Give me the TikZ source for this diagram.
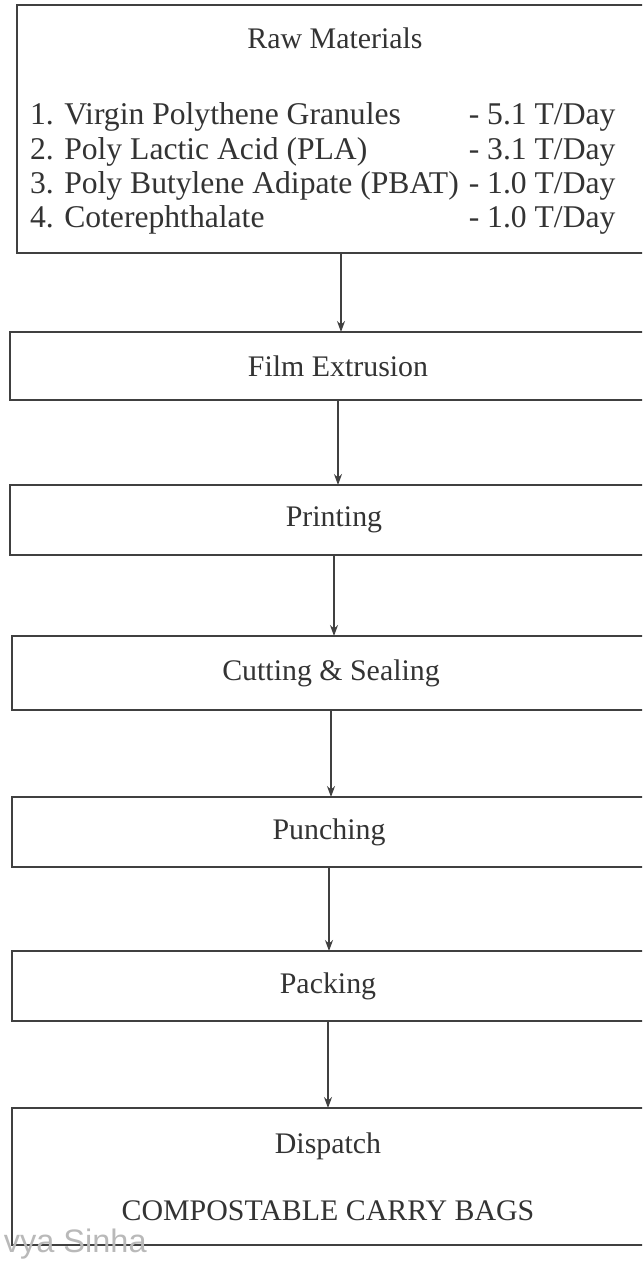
\documentclass[tikz,border=0pt]{standalone}
\usepackage{fontspec}
\setmainfont{Liberation Serif}
\setsansfont{Liberation Sans}
\usetikzlibrary{positioning,arrows.meta}

\begin{document}
\begin{tikzpicture}[every node/.style={outer sep=0pt},
        stage/.style={draw=black!75,line width=0.6pt,inner sep=0pt,text=black!80,
        font=\fontsize{17}{19.5}\selectfont},
        flow/.style={draw=black!75,line width=0.6pt,-{Stealth[length=2.2mm,width=1.6mm]}}]

        \useasboundingbox (0,0) rectangle (12.84,-25.24);
        \clip (0,0) rectangle (12.84,-25.24);

        % Raw materials
        \node[stage,minimum width=12.96cm,minimum height=4.96cm] (b1) at (6.82,-2.58) {};
        \node[stage,draw=none] (raw) at (6.70,-0.76) {Raw Materials};
        \node[stage,draw=none,anchor=west,font=\fontsize{18}{19.5}\selectfont] (items) at (0.6,-3.39) {%
        \begin{tabular}{@{}l@{\hspace{0.2cm}}l@{}}
        1. Virgin Polythene Granules & - 5.1 T/Day\\
        2. Poly Lactic Acid (PLA) & - 3.1 T/Day\\
        3. Poly Butylene Adipate (PBAT) & - 1.0 T/Day\\
        4. Coterephthalate & - 1.0 T/Day
        \end{tabular}};

        % Process stages
        \node[stage,minimum width=13.12cm,minimum height=1.36cm,below=1.58cm of b1,xshift=-0.06cm] (b2) {Film Extrusion};
        \node[stage,minimum width=12.96cm,minimum height=1.40cm,below=1.70cm of b2,xshift=-0.08cm] (b3) {Printing};
        \node[stage,minimum width=12.76cm,minimum height=1.48cm,below=1.62cm of b3,xshift=-0.06cm] (b4) {Cutting \& Sealing};
        \node[stage,minimum width=12.68cm,minimum height=1.40cm,below=1.74cm of b4,xshift=-0.04cm] (b5) {Punching};
        \node[stage,minimum width=12.64cm,minimum height=1.40cm,below=1.68cm of b5,xshift=-0.02cm] (b6) {Packing};
        \node[stage,minimum width=12.64cm,minimum height=2.74cm,below=1.74cm of b6,align=center] (b7) {Dispatch\\[18.5pt]COMPOSTABLE CARRY BAGS};

        % Arrows
        \draw[flow] (b1.south) -- (b1.south |- b2.north);
        \draw[flow] (b2.south) -- (b2.south |- b3.north);
        \draw[flow] (b3.south) -- (b3.south |- b4.north);
        \draw[flow] (b4.south) -- (b4.south |- b5.north);
        \draw[flow] (b5.south) -- (b5.south |- b6.north);
        \draw[flow] (b6.south) -- (b6.south |- b7.north);

        % Signature
        \node[font=\sffamily\fontsize{18.5}{20}\selectfont,text=gray!55,anchor=base west] (sig) at (-0.04,-25.04) {vya Sinha};

    \end{tikzpicture}
\end{document}
